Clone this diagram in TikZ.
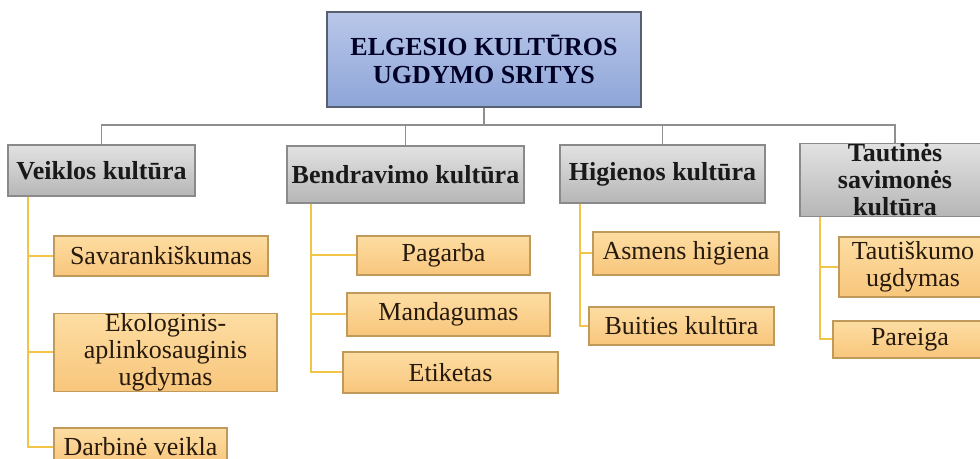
\documentclass[tikz,border=0pt]{standalone}
\usepackage{fontspec}
\setmainfont{Liberation Serif}
\usepackage{tikz}

\definecolor{virsusM}{HTML}{B9C7E9}
\definecolor{apaciaM}{HTML}{8EA5D8}
\definecolor{remasM}{HTML}{56606E}
\definecolor{virsusP}{HTML}{E2E2E2}
\definecolor{apaciaP}{HTML}{B6B6B6}
\definecolor{remasP}{HTML}{8A8A8A}
\definecolor{virsusO}{HTML}{FDDDA2}
\definecolor{apaciaO}{HTML}{F8C67C}
\definecolor{remasO}{HTML}{BF9A5A}
\definecolor{linijaO}{HTML}{F2C548}
\definecolor{linijaP}{HTML}{8F8F8F}

\tikzset{
	sritis/.style={draw=remasM, line width=0.6pt, top color=virsusM, bottom color=apaciaM,
		align=center, inner sep=0pt, text=black!85!blue,
		font=\fontsize{13}{14}\selectfont\bfseries},
	kultura/.style={draw=remasP, line width=0.6pt, top color=virsusP, bottom color=apaciaP,
		align=center, inner sep=0pt, text=black!90,
		font=\fontsize{13}{13.5}\selectfont\bfseries},
	dalis/.style={draw=remasO, line width=0.6pt, top color=virsusO, bottom color=apaciaO,
		align=center, inner sep=0pt, text=black!80!brown,
		font=\fontsize{13}{13.5}\selectfont},
	stamm/.style={draw=linijaP, line width=0.8pt},
	saka/.style={draw=linijaO, line width=1pt}
}

\begin{document}
\begin{tikzpicture}[x=0.5pt,y=-0.5pt]
	\useasboundingbox (0,0) rectangle (980,459);
	\begin{scope}                           % nukirpta kaip paveiksle
		\clip (0,0) rectangle (980,459);

		% virsus
		\node[sritis, minimum width=157pt, minimum height=47.5pt] (elgesys) at (484,59.5) {ELGESIO KULTŪROS\\UGDYMO SRITYS};

		% antras lygis
		\node[kultura, minimum width=93.5pt, minimum height=25.5pt] (veikla) at (101.5,170.5) {Veiklos kultūra};
		\node[kultura, minimum width=118.5pt, minimum height=28.5pt] (bendr) at (405.5,174.5) {Bendravimo kultūra};
		\node[kultura, minimum width=102.5pt, minimum height=29pt] (higiena) at (662.5,174) {Higienos kultūra};
		\node[kultura, minimum width=95pt, minimum height=36.5pt] (tautine) at (895,180) {Tautinės\\savimonės\\kultūra};

		% trecias lygis
		\node[dalis, minimum width=107pt, minimum height=20pt] (savar) at (161,256) {Savarankiškumas};
		\node[dalis, minimum width=111.5pt, minimum height=38.5pt] (ekolog) at (165.5,352.5) {Ekologinis-\\aplinkosauginis\\ugdymas};
		\node[dalis, minimum width=86.5pt, minimum height=19pt] (darbas) at (140.5,447) {Darbinė veikla};

		\node[dalis, minimum width=86.5pt, minimum height=19.5pt] (pagarba) at (443.5,255.5) {Pagarba};
		\node[dalis, minimum width=101.5pt, minimum height=21.5pt] (mandag) at (448.5,314.5) {Mandagumas};
		\node[dalis, minimum width=107.5pt, minimum height=20.5pt] (etiket) at (450.5,372.5) {Etiketas};

		\node[dalis, minimum width=93pt, minimum height=21.5pt] (asmens) at (686,253.5) {Asmens higiena};
		\node[dalis, minimum width=92.5pt, minimum height=19pt] (buitis) at (681.5,326) {Buities kultūra};

		\node[dalis, minimum width=74pt, minimum height=30pt] (tautisk) at (913,267) {Tautiškumo\\ugdymas};
		\node[dalis, minimum width=77pt, minimum height=18.5pt] (pareiga) at (910,339.5) {Pareiga};

		% jungtys
		\coordinate (magistr) at (484,125);
		\draw[stamm] (elgesys.south) -- (magistr) -| (veikla.north);
		\draw[stamm] (elgesys.south) -- (magistr) -| (bendr.north);
		\draw[stamm] (elgesys.south) -- (magistr) -| (higiena.north);
		\draw[stamm] (elgesys.south) -- (magistr) -| (tautine.north);

		\coordinate (bVeik) at ([xshift=10.5pt]veikla.south west);
		\coordinate (bBendr) at ([xshift=12.5pt]bendr.south west);
		\coordinate (bHig) at ([xshift=10.5pt]higiena.south west);
		\coordinate (bTaut) at ([xshift=10.5pt]tautine.south west);

		\draw[saka] (bVeik) |- (savar.west);
		\draw[saka] (bVeik) |- (ekolog.west);
		\draw[saka] (bVeik) |- (darbas.west);
		\draw[saka] (bBendr) |- (pagarba.west);
		\draw[saka] (bBendr) |- (mandag.west);
		\draw[saka] (bBendr) |- (etiket.west);
		\draw[saka] (bHig) |- (asmens.west);
		\draw[saka] (bHig) |- (buitis.west);
		\draw[saka] (bTaut) |- (tautisk.west);
		\draw[saka] (bTaut) |- (pareiga.west);
	\end{scope}
\end{tikzpicture}
\end{document}
